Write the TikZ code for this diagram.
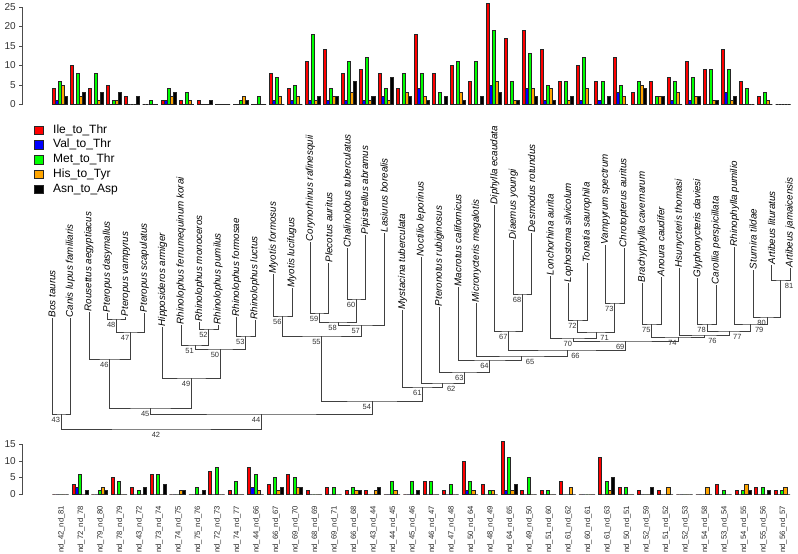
\documentclass[tikz,border=0pt]{standalone}
\usepackage{fontspec}
\setmainfont{Liberation Sans}
\definecolor{c0}{RGB}{255,0,0}
\definecolor{c1}{RGB}{0,0,255}
\definecolor{c2}{RGB}{0,255,0}
\definecolor{c3}{RGB}{255,165,0}
\definecolor{c4}{RGB}{0,0,0}
\begin{document}
\begin{tikzpicture}[x=1pt,y=-1pt,
  treeline/.style={draw=black!75, line width=0.7pt},
  tiplab/.style={rotate=90, anchor=west, inner sep=0.6pt, font=\fontsize{9.8}{10}\selectfont\itshape},
  nlab/.style={inner sep=0pt, font=\fontsize{7.5}{8}\selectfont, text=black!80},
  barrect/.style={draw=black!85, line width=0.45pt},
  axisline/.style={draw=black!70, line width=0.6pt},
  ticklab/.style={anchor=east, inner sep=0pt, font=\fontsize{10}{11}\selectfont, text=black!80},
  xlab/.style={rotate=90, anchor=east, inner sep=0pt, font=\fontsize{7.7}{8}\selectfont, text=black!85},
  legbox/.style={draw=black!85, line width=0.5pt, minimum width=9pt, minimum height=8.5pt, inner sep=0pt},
  legtext/.style={anchor=west, inner sep=0pt, font=\fontsize{12}{13}\selectfont}
]
\useasboundingbox[fill=white] (0,0) rectangle (798,554);

% ---------- top bar chart ----------
\draw[axisline] (22.7,104.3) -- (22.7,6.8);
\foreach \t in {0,5,10,15,20,25} {
  \draw[axisline] (22.7,{104.3-\t*3.9}) -- ++(-4,0);
  \node[ticklab] (ty\t) at (16,{104.3-\t*3.9}) {\t};
}
\foreach \vals [count=\k from 0] in {{4,1,6,5,2},{10,0,8,2,3},{4,0,8,1,3},{5,0,1,1,3},{2,0,0,0,2},{0,0,1,0,0},{1,1,4,2,3},{1,0,3,1,0},{1,0,0,0,1},{0,0,0,0,0},{0,0,1,2,1},{0,0,2,0,0},{8,1,7,2,0},{4,1,5,2,0},{11,1,18,1,2},{14,1,4,2,2},{8,1,11,3,6},{9,1,12,1,2},{8,2,4,1,7},{4,0,8,3,2},{18,4,8,2,1},{8,0,3,0,2},{10,0,11,3,1},{6,0,11,0,2},{26,5,19,6,3},{17,0,6,1,1},{19,4,13,4,2},{14,1,5,4,1},{6,0,6,1,2},{10,1,12,4,0},{6,1,6,0,2},{12,3,5,2,0},{3,0,6,5,4},{6,0,2,2,2},{7,1,6,3,0},{11,1,7,2,2},{9,0,9,1,1},{14,3,9,1,2},{6,0,4,0,0},{2,0,3,1,0},{0,0,0,0,0}} {
  \foreach \v [count=\j from 0] in \vals {
    \path[barrect, fill=c\j] ({52.3+\k*18.08+\j*3.013},104.3) rectangle ++(3.013,{-\v*3.9});
  }
}

% ---------- legend ----------
\foreach \nm [count=\i from 0] in {Ile\_to\_Thr,Val\_to\_Thr,Met\_to\_Thr,His\_to\_Tyr,Asn\_to\_Asp} {
  \node[legbox, fill=c\i] (lb\i) at (38.5,{130+\i*14.8}) {};
  \node[legtext] (lt\i) at (53,{130+\i*14.8}) {\nm};
}

% ---------- tree ----------
\foreach \nm/\ty [count=\i from 0] in {Bos taurus/318,Canis lupus familiaris/318,Rousettus aegyptiacus/312,Pteropus dasymallus/313,Pteropus vampyrus/317,Pteropus scapulatus/313,Hipposideros armiger/327,Rhinolophus ferrumequinum korai/325,Rhinolophus monoceros/322,Rhinolophus pumilus/325,Rhinolophus formosae/317,Rhinolophus luctus/320,Myotis formosus/274,Myotis lucifugus/288,Corynorhinus rafinesquii/242,Plecotus auritus/263,Chalinolobus tuberculatus/248,Pipistrellus abramus/235,Lasiurus borealis/233,Mystacina tuberculata/310,Noctilio leporinus/257,Pteronotus rubiginosus/307,Macrotus californicus/287,Micronycteris megalotis/303,Diphylla ecaudata/205,Diaemus youngi/240,Desmodus rotundus/233,Lonchorhina aurita/276,Lophostoma silvicolum/283,Tonatia saurophila/263,Vampyrum spectrum/245,Chrotopterus auritus/248,Brachyphylla cavernarum/283,Anoura caudifer/277,Hsunycteris thomasi/268,Glyphonycteris daviesi/278,Carollia perspicillata/285,Rhinophylla pumilio/247,Sturnira tildae/270,Artibeus lituratus/265,Artibeus jamaicensis/268} {
  \coordinate (t\i) at ({52+18.45*\i},\ty);
  \node[tiplab] (tl\i) at (t\i) {\nm};
}
\foreach \n/\x/\y in {42/161.33/429,43/61.225/414,44/261.43/414,45/150.6/408,46/109.66/359,47/130.41/332,48/116.575/319,49/191.53/378,50/220.36/349,51/194.99/345,52/208.825/329,53/245.725/336,54/372.26/401,55/321.83/336,56/282.625/316,57/361.04/325,58/337.975/322,59/319.525/313,60/356.425/299,61/422.68/387,62/442.82/383,63/464.63/372,64/489.81/360,65/521.72/356,66/567.09/350,67/508.64/331,68/522.475/294,69/625.54/341,70/573.21/338,71/596.275/332,72/577.825/320,73/614.725/303,74/677.86/337,75/651.625/324,76/704.1/335,77/728.89/331,78/706.975/324,79/750.8/324,80/766.94/317,81/780.775/280} {
  \coordinate (n\n) at (\x,\y);
}
\foreach \p/\a/\b in {42/n43/n44,43/t0/t1,44/n45/n54,45/n46/n49,46/t2/n47,47/n48/t5,48/t3/t4,49/t6/n50,50/n51/n53,51/t7/n52,52/t8/t9,53/t10/t11,54/n55/n61,55/n56/n57,56/t12/t13,57/n58/t18,58/n59/n60,59/t14/t15,60/t16/t17,61/t19/n62,62/t20/n63,63/t21/n64,64/t22/n65,65/t23/n66,66/n67/n69,67/t24/n68,68/t25/t26,69/n70/n74,70/t27/n71,71/n72/n73,72/t28/t29,73/t30/t31,74/n75/n76,75/t32/t33,76/t34/n77,77/n78/n79,78/t35/t36,79/t37/n80,80/t38/n81,81/t39/t40} {
  \draw[treeline] (\a) |- (n\p) -| (\b);
}
\foreach \p in {42,43,44,45,46,47,48,49,50,51,52,53,54,55,56,57,58,59,60,61,63,64,67,68,69,70,72,73,74,75,78,80} {
  \node[nlab, anchor=north east] (nl\p) at ([shift={(-1,3.5)}]n\p) {\p};
}
\foreach \p in {62,65,66,71,76,77,79,81} {
  \node[nlab, anchor=north west] (nl\p) at ([shift={(4,3)}]n\p) {\p};
}

% ---------- bottom bar chart ----------
\draw[axisline] (22.7,494) -- (22.7,444.5);
\foreach \t in {0,5,10,15} {
  \draw[axisline] (22.7,{494-\t*3.3}) -- ++(-4,0);
  \node[ticklab] (by\t) at (16,{494-\t*3.3}) {\t};
}
\foreach \vals [count=\k from 0] in {{0,0,0,0,0},{3,2,6,0,1},{0,0,1,2,1},{5,0,4,0,0},{2,0,1,0,2},{6,0,6,0,3},{0,0,0,1,1},{0,0,2,0,1},{7,0,8,0,0},{1,0,4,0,0},{8,2,6,1,0},{3,0,5,1,2},{6,0,5,2,2},{1,0,0,0,0},{2,0,2,0,0},{1,0,2,1,1},{1,0,0,1,2},{0,0,4,1,0},{0,0,4,0,1},{4,0,4,0,0},{1,0,3,0,0},{10,1,4,1,0},{3,0,1,1,0},{16,1,11,1,3},{1,0,5,0,0},{1,0,1,0,0},{4,0,0,2,0},{0,0,0,0,0},{11,0,4,1,5},{2,0,2,0,0},{1,0,0,0,2},{1,0,0,2,0},{0,0,0,0,0},{0,0,0,2,0},{3,0,1,0,0},{1,0,1,3,1},{2,0,2,0,1},{1,0,1,2,0}} {
  \foreach \v [count=\j from 0] in \vals {
    \path[barrect, fill=c\j] ({52.3+\k*19.5+\j*3.25},494) rectangle ++(3.25,{-\v*3.3});
  }
}
\foreach \a/\b [count=\k from 0] in {42/81,72/78,79/80,78/79,43/72,73/74,74/75,75/76,72/73,74/77,44/66,66/67,69/70,68/69,69/71,66/68,43/44,44/45,45/46,46/47,47/48,50/64,48/49,64/65,49/50,51/60,61/62,60/61,61/63,50/51,52/59,51/52,52/53,54/58,53/54,54/55,55/56,56/57} {
  \node[xlab] (xl\k) at ({52.3+\k*19.5+9.3},505.5) {nd\_\a\_nd\_\b};
}
\end{tikzpicture}
\end{document}
